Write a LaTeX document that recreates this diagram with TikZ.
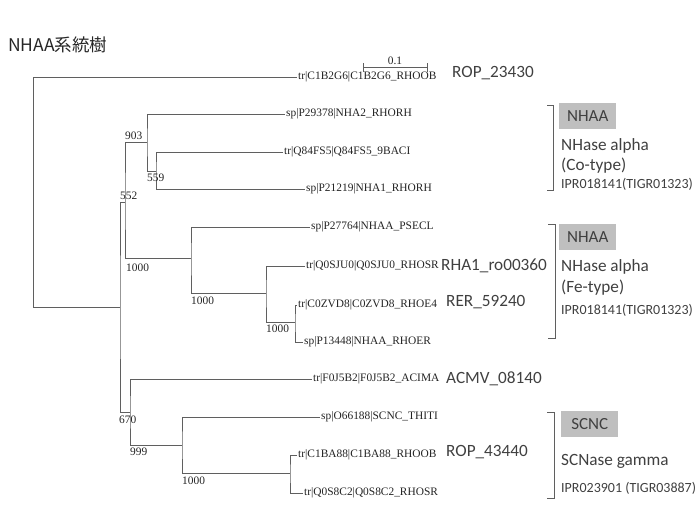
\documentclass[tikz,border=0pt]{standalone}
\usepackage{fontspec}
\setmainfont{Liberation Serif}
\newfontfamily\calfont{Carlito}
\newfontfamily\jpfont{Noto Sans CJK JP}
\definecolor{linegray}{RGB}{95,95,95}
\definecolor{leaftext}{RGB}{35,35,35}
\definecolor{sidetext}{RGB}{64,64,64}
\definecolor{boxgray}{RGB}{191,191,191}
\definecolor{brackgray}{RGB}{95,95,95}
\tikzset{
  branch/.style={draw=linegray, line width=0.9pt},
  leaf/.style={anchor=west, inner xsep=1pt, inner ysep=0pt, text=leaftext, font=\fontsize{11.4}{13}\selectfont},
  boot/.style={anchor=west, inner sep=0pt, text=leaftext, font=\fontsize{11.4}{13}\selectfont},
  big/.style={anchor=west, inner sep=0pt, text=sidetext, font=\calfont\fontsize{17.2}{20}\selectfont},
  small/.style={anchor=west, inner sep=0pt, text=sidetext, font=\calfont\fontsize{14}{16}\selectfont},
  tag/.style={anchor=north west, fill=boxgray, text=sidetext, minimum width=57pt, minimum height=26pt, inner sep=0pt, font=\calfont\fontsize{17}{20}\selectfont},
  brack/.style={draw=brackgray, line width=1pt}
}
\begin{document}
\begin{tikzpicture}[x=1pt,y=-1pt]
\useasboundingbox (0,0) rectangle (700,525);
% title
\node[anchor=west, inner sep=0pt, text=black!85, font=\jpfont\fontsize{17.5}{20}\selectfont] (title) at (8,45) {NHAA系統樹};
% leaves
\node[leaf] (c1b2g6) at (297,77) {tr|C1B2G6|C1B2G6\_RHOOB};
\node[leaf] (nha2) at (285,114) {sp|P29378|NHA2\_RHORH};
\node[leaf] (q84) at (283,152) {tr|Q84FS5|Q84FS5\_9BACI};
\node[leaf] (nha1) at (305,189) {sp|P21219|NHA1\_RHORH};
\node[leaf] (p27764) at (310,227) {sp|P27764|NHAA\_PSECL};
\node[leaf] (q0sju0) at (305,266) {tr|Q0SJU0|Q0SJU0\_RHOSR};
\node[leaf] (c0zvd8) at (297,305) {tr|C0ZVD8|C0ZVD8\_RHOE4};
\node[leaf] (p13448) at (303,342) {sp|P13448|NHAA\_RHOER};
\node[leaf] (f0j5b2) at (312,379) {tr|F0J5B2|F0J5B2\_ACIMA};
\node[leaf] (o66188) at (320,417) {sp|O66188|SCNC\_THITI};
\node[leaf] (c1ba88) at (297,455) {tr|C1BA88|C1BA88\_RHOOB};
\node[leaf] (q0s8c2) at (303,493) {tr|Q0S8C2|Q0S8C2\_RHOSR};
% internal nodes
\coordinate (R) at (33,307);
\coordinate (n1) at (120,307);
\coordinate (n552) at (125,202);
\coordinate (n903) at (147,142);
\coordinate (n559) at (156,171);
\coordinate (na) at (191,258);
\coordinate (nb) at (266,293);
\coordinate (nc) at (295,322);
\coordinate (n670) at (130,412);
\coordinate (n999) at (182,445);
\coordinate (nd) at (290,473);
% branches
\draw[branch] (c1b2g6.west) -| (R) -- (n1);
\draw[branch] (n552) -| (n1) |- (n670);
\draw[branch] (n903) -| (n552) |- (na);
\draw[branch] (nha2.west) -| (n903) |- (n559);
\draw[branch] (q84.west) -| (n559) |- (nha1.west);
\draw[branch] (p27764.west) -| (na) |- (nb);
\draw[branch] (q0sju0.west) -| (nb) |- (nc);
\draw[branch] (c0zvd8.west) -| (nc) |- (p13448.west);
\draw[branch] (f0j5b2.west) -| (n670) |- (n999);
\draw[branch] (o66188.west) -| (n999) |- (nd);
\draw[branch] (c1ba88.west) -| (nd) |- (q0s8c2.west);
% bootstrap values
\node[boot] (b903) at (125,136) {903};
\node[boot] (b559) at (147,178) {559};
\node[boot] (b552) at (120,196) {552};
\node[boot] (ba) at (126,268) {1000};
\node[boot] (bb) at (191,301) {1000};
\node[boot] (bc) at (266,329) {1000};
\node[boot] (b670) at (119,420) {670};
\node[boot] (b999) at (130,452) {999};
\node[boot] (bd) at (182,481) {1000};
% scale bar
\draw[branch] (363,63) -- (363,72) (363,67) -- (427,67) (427,63) -- (427,72);
\node[boot, anchor=center] (scale) at (395,61) {0.1};
% locus tags
\node[big] (rop1) at (452,73) {ROP\_23430};
\node[big] (rha1) at (441,266) {RHA1\_ro00360};
\node[big] (rer) at (446,302) {RER\_59240};
\node[big] (acmv) at (446,379) {ACMV\_08140};
\node[big] (rop2) at (446,452) {ROP\_43440};
% group 1
\draw[brack] (547,105) -- (553,105) -- (553,190) -- (547,190);
\node[tag] (g1) at (559,103) {NHAA};
\node[big] (g1a) at (561,146) {NHase alpha};
\node[big] (g1b) at (561,166) {(Co-type)};
\node[small] (g1c) at (561,184) {IPR018141(TIGR01323)};
% group 2
\draw[brack] (548,224) -- (555,224) -- (555,338) -- (548,338);
\node[tag] (g2) at (559,224) {NHAA};
\node[big] (g2a) at (561,267) {NHase alpha};
\node[big] (g2b) at (561,288) {(Fe-type)};
\node[small] (g2c) at (561,310) {IPR018141(TIGR01323)};
% group 3
\draw[brack] (547,412) -- (554,412) -- (554,498) -- (547,498);
\node[tag] (g3) at (561,411) {SCNC};
\node[big] (g3a) at (561,461) {SCNase gamma};
\node[small] (g3b) at (561,488) {IPR023901 (TIGR03887)};
\end{tikzpicture}
\end{document}
